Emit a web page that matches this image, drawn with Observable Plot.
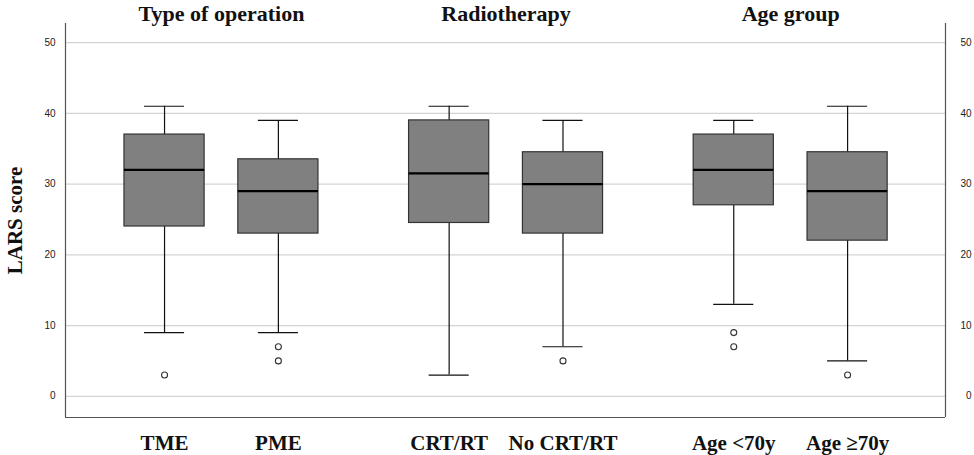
<!DOCTYPE html>
<html>
<head>
<meta charset="utf-8">
<script src="https://cdn.jsdelivr.net/npm/d3@7"></script>
<script src="https://cdn.jsdelivr.net/npm/@observablehq/plot@0.6"></script>
<style>
  html, body { margin: 0; padding: 0; background: #fff; }
</style>
</head>
<body>
<div id="chart"></div>
<script>
// ---- data ----
const groups = ["Type of operation", "Radiotherapy", "Age group"];
const categories = ["TME", "PME", "CRT/RT", "No CRT/RT", "Age <70y", "Age ≥70y"];
const categoryGroup = [0, 0, 1, 1, 2, 2];
const whiskerLow  = [9, 9, 3, 7, 13, 5];
const q1          = [24, 23, 24.5, 23, 27, 22];
const median      = [32, 29, 31.5, 30, 32, 29];
const q3          = [37, 33.5, 39, 34.5, 37, 34.5];
const whiskerHigh = [41, 39, 41, 39, 39, 41];
const outliers    = [[3], [7, 5], [], [5], [9, 7], [3]];
const yTicks = [0, 10, 20, 30, 40, 50];

// ---- table built from the arrays ----
// position along x: order of category, with half-step gap between groups
const boxes = categories.map((c, i) => ({
  category: c,
  group: categoryGroup[i],
  pos: i + categoryGroup[i] * 0.5,
  low: whiskerLow[i], q1: q1[i], median: median[i], q3: q3[i], high: whiskerHigh[i]
}));
const outlierRows = boxes.flatMap((b, i) => outliers[i].map(v => ({pos: b.pos, value: v})));
const groupRows = groups.map((g, gi) => {
  const members = boxes.filter(b => b.group === gi);
  return {group: g, pos: d3.mean(members, b => b.pos)};
});

const xDomain = [-0.87, 6.86];
const yDomain = [-3, 52.7];
const boxHalf = 0.352;
const capHalf = 0.176;
const serif = "Liberation Serif";

const chart = Plot.plot({
  width: 974,
  height: 455,
  marginLeft: 65,
  marginRight: 29,
  marginTop: 23,
  marginBottom: 38,
  style: {fontFamily: "Liberation Sans", fontSize: "10px", color: "#222", background: "#fff"},
  x: {type: "linear", domain: xDomain, axis: null},
  y: {domain: yDomain, axis: null},
  marks: [
    Plot.ruleY(yTicks, {stroke: "#d4d4d4", strokeWidth: 1.2}),
    Plot.axisY({anchor: "left", ticks: yTicks, tickSize: 0, tickPadding: 10, label: null, fontSize: 10}),
    Plot.axisY({anchor: "right", ticks: yTicks, tickSize: 0, tickPadding: 26, textAnchor: "end", label: null, fontSize: 10}),
    // frame: left, right, bottom
    Plot.ruleX(xDomain, {stroke: "#555", strokeWidth: 1.2}),
    Plot.ruleY([yDomain[0]], {stroke: "#555", strokeWidth: 1.2}),
    // whiskers
    Plot.ruleX(boxes, {x: "pos", y1: "low", y2: "high", stroke: "#111", strokeWidth: 1.2}),
    Plot.ruleY(boxes, {y: "low", x1: d => d.pos - capHalf, x2: d => d.pos + capHalf, stroke: "#111", strokeWidth: 1.2}),
    Plot.ruleY(boxes, {y: "high", x1: d => d.pos - capHalf, x2: d => d.pos + capHalf, stroke: "#111", strokeWidth: 1.2}),
    // boxes
    Plot.rect(boxes, {x1: d => d.pos - boxHalf, x2: d => d.pos + boxHalf, y1: "q1", y2: "q3", fill: "#808080", stroke: "#333", strokeWidth: 1.2}),
    Plot.ruleY(boxes, {y: "median", x1: d => d.pos - boxHalf, x2: d => d.pos + boxHalf, stroke: "#000", strokeWidth: 2.2}),
    // outliers
    Plot.dot(outlierRows, {x: "pos", y: "value", r: 3, stroke: "#333", fill: "#fff", strokeWidth: 1.1}),
    // category labels
    Plot.text(boxes, {x: "pos", text: "category", frameAnchor: "bottom", lineAnchor: "middle", dy: 26, fontFamily: serif, fontWeight: "bold", fontSize: 21, fill: "#111"}),
    // group titles
    Plot.text(groupRows, {x: "pos", text: "group", frameAnchor: "top", lineAnchor: "middle", dy: -10, fontFamily: serif, fontWeight: "bold", fontSize: 22, fill: "#111"}),
    // y label
    Plot.text(["LARS score"], {frameAnchor: "left", textAnchor: "middle", lineAnchor: "middle", rotate: -90, dx: -50, fontFamily: serif, fontWeight: "bold", fontSize: 21, fill: "#111"})
  ]
});
document.getElementById("chart").appendChild(chart);
</script>
</body>
</html>
